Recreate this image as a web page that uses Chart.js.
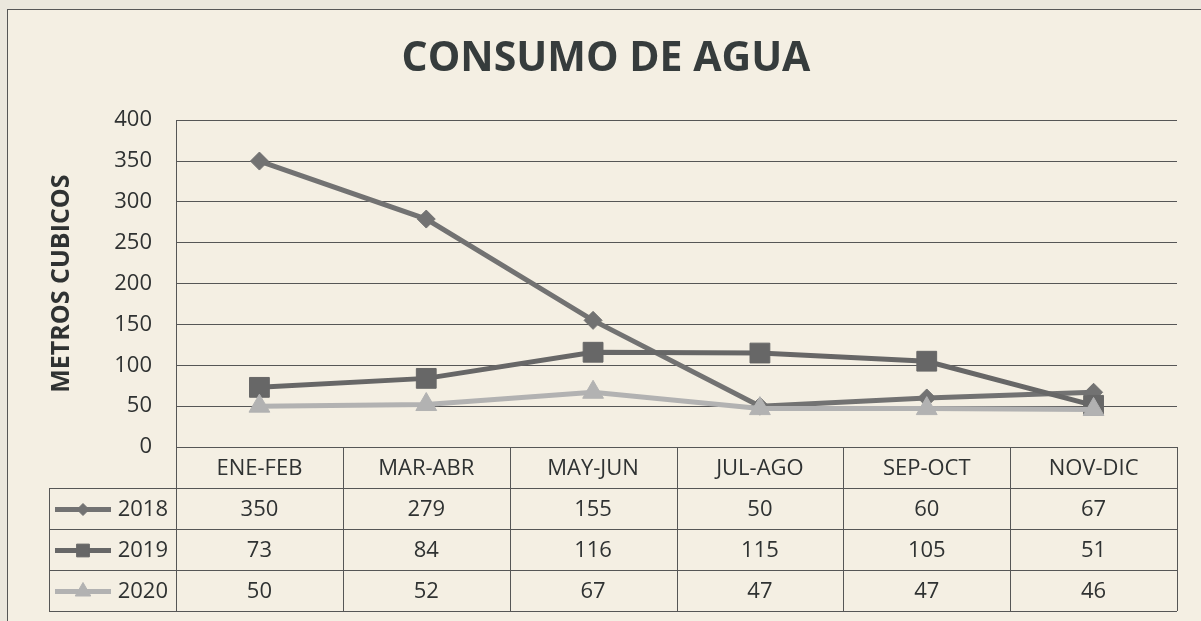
<!DOCTYPE html>
<html lang="es">
<head>
<meta charset="utf-8">
<title>Consumo de agua</title>
<script src="https://cdn.jsdelivr.net/npm/chart.js@4/dist/chart.umd.min.js"></script>
<style>
	html, body { margin: 0; padding: 0; background: #ebe7dd; }
	#wrap { width: 1201px; height: 621px; }
</style>
</head>
<body>
<div id="wrap"><canvas id="chart" width="1201" height="621"></canvas></div>
<script>
const categories = ['ENE-FEB', 'MAR-ABR', 'MAY-JUN', 'JUL-AGO', 'SEP-OCT', 'NOV-DIC'];
const seriesNames = ['2018', '2019', '2020'];
const values2018 = [350, 279, 155, 50, 60, 67];
const values2019 = [73, 84, 116, 115, 105, 51];
const values2020 = [50, 52, 67, 47, 47, 46];
const yTicks = [0, 50, 100, 150, 200, 250, 300, 350, 400];

const FONT = "'Open Sans', 'Noto Sans', sans-serif";
const TEXT = '#2f3232';
const RULE = '#565656';

const seriesStyle = [
	{ color: '#727272', pointStyle: 'rectRot', radius: 9, legendRadius: 6 },
	{ color: '#676767', pointStyle: 'rect', radius: 14, legendRadius: 9 },
	{ color: '#b2b2b2', pointStyle: 'triangle', radius: 12, legendRadius: 9 }
];
const allValues = [values2018, values2019, values2020];

// paper background + outer frame
const paperPlugin = {
	id: 'paper',
	beforeDraw(chart) {
		const ctx = chart.ctx;
		ctx.save();
		ctx.fillStyle = '#ebe7dd';
		ctx.fillRect(0, 0, chart.width, chart.height);
		ctx.fillStyle = '#f4efe3';
		ctx.fillRect(7, 9, chart.width, chart.height);
		ctx.strokeStyle = RULE;
		ctx.lineWidth = 1;
		ctx.strokeRect(7.5, 9.5, chart.width + 20, chart.height + 20);
		ctx.restore();
	}
};

// data table under the plot, columns taken from the x scale
const tablePlugin = {
	id: 'dataTable',
	afterDraw(chart) {
		const ctx = chart.ctx;
		const x = chart.scales.x;
		const area = chart.chartArea;
		const rowH = 41;
		const top = area.bottom;
		const bottom = top + rowH * 4;
		const tableLeft = 49;
		const half = (x.getPixelForValue(1) - x.getPixelForValue(0)) / 2;

		ctx.save();
		ctx.strokeStyle = RULE;
		ctx.lineWidth = 1;
		ctx.beginPath();
		for (let i = 0; i <= categories.length; i++) {
			const px = Math.round(x.getPixelForValue(0) - half + i * half * 2) + 0.5;
			ctx.moveTo(px, top);
			ctx.lineTo(px, bottom);
		}
		ctx.moveTo(area.left, top + 0.5);
		ctx.lineTo(area.right, top + 0.5);
		for (let r = 1; r <= 4; r++) {
			const py = Math.round(top + r * rowH) + 0.5;
			ctx.moveTo(tableLeft, py);
			ctx.lineTo(area.right, py);
		}
		ctx.moveTo(tableLeft + 0.5, top + rowH);
		ctx.lineTo(tableLeft + 0.5, bottom);
		ctx.stroke();

		ctx.fillStyle = TEXT;
		ctx.font = '22px ' + FONT;
		ctx.textAlign = 'center';
		ctx.textBaseline = 'middle';
		categories.forEach((c, i) => {
			ctx.fillText(c, x.getPixelForValue(i), top + rowH / 2 + 1);
		});

		allValues.forEach((vals, s) => {
			const cy = top + rowH * (s + 1) + rowH / 2 + 1;
			const st = seriesStyle[s];
			ctx.strokeStyle = st.color;
			ctx.fillStyle = st.color;
			ctx.lineWidth = 5;
			ctx.beginPath();
			ctx.moveTo(55, cy);
			ctx.lineTo(111, cy);
			ctx.stroke();
			if (Chart.helpers && Chart.helpers.drawPoint) {
				ctx.lineWidth = 1;
				Chart.helpers.drawPoint(ctx, {
					pointStyle: st.pointStyle,
					radius: st.legendRadius,
					rotation: 0,
					borderWidth: 1
				}, 83, cy);
			}
			ctx.fillStyle = TEXT;
			ctx.textAlign = 'right';
			ctx.fillText(seriesNames[s], 168, cy);
			ctx.textAlign = 'center';
			vals.forEach((v, i) => {
				ctx.fillText(String(v), x.getPixelForValue(i), cy);
			});
		});
		ctx.restore();
	}
};

const datasets = allValues.map((vals, s) => ({
	label: seriesNames[s],
	data: vals,
	borderColor: seriesStyle[s].color,
	backgroundColor: seriesStyle[s].color,
	borderWidth: 5,
	pointStyle: seriesStyle[s].pointStyle,
	pointRadius: seriesStyle[s].radius,
	pointBorderWidth: 1,
	pointBackgroundColor: seriesStyle[s].color,
	pointBorderColor: seriesStyle[s].color,
	tension: 0,
	order: 3 - s
}));

new Chart(document.getElementById('chart'), {
	type: 'line',
	data: { labels: categories, datasets: datasets },
	plugins: [paperPlugin, tablePlugin],
	options: {
		responsive: false,
		animation: false,
		layout: {
			padding: { top: 0, right: 0, bottom: 174, left: 11 }
		},
		scales: {
			x: {
				display: false,
				offset: true
			},
			y: {
				min: 0,
				max: 400,
				afterBuildTicks: (scale) => {
					scale.ticks = yTicks.map(v => ({ value: v }));
				},
				afterFit: (scale) => {
					scale.width = 165;
				},
				grid: {
					color: RULE,
					lineWidth: 1,
					drawTicks: false
				},
				border: {
					display: true,
					color: RULE,
					width: 1
				},
				ticks: {
					color: TEXT,
					padding: 24,
					font: { family: FONT, size: 22 }
				},
				title: {
					display: true,
					text: 'METROS CUBICOS',
					color: TEXT,
					padding: { top: 36, bottom: 0 },
					font: { family: FONT, size: 25, weight: 'bold', lineHeight: 1.2 }
				}
			},
			// empty spacer on the right so the plot stops short of the edge
			yRight: {
				position: 'right',
				min: 0,
				max: 400,
				grid: { display: false, drawTicks: false },
				border: { display: false },
				ticks: { display: false },
				afterFit: (scale) => {
					scale.width = 24;
				}
			}
		},
		plugins: {
			legend: { display: false },
			tooltip: { enabled: false },
			title: {
				display: true,
				text: 'CONSUMO DE AGUA',
				color: '#363c3c',
				padding: { top: 35, bottom: 36 },
				font: { family: FONT, size: 41, weight: 'bold', lineHeight: 1.2 }
			}
		}
	}
});
</script>
</body>
</html>
